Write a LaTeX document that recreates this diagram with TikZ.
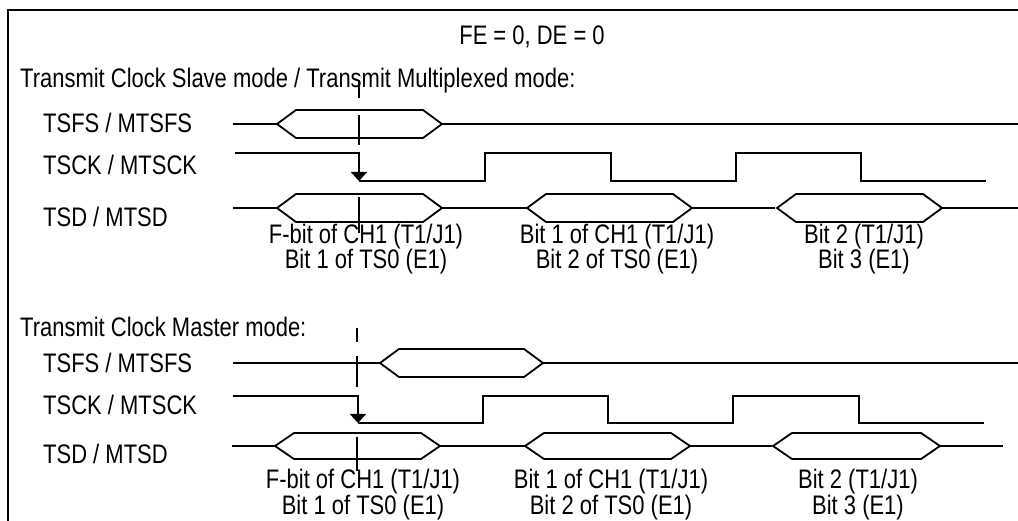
\documentclass[tikz,border=0pt]{standalone}
\usepackage{fontspec}
\setmainfont[FakeStretch=0.82]{Liberation Sans}
\usetikzlibrary{arrows.meta}

\begin{document}
\begin{tikzpicture}[
  x=1pt, y=-1pt,
  every node/.style={inner sep=0pt, font=\fontsize{26.8}{23}\selectfont},
  sig/.style={anchor=base west},
  caption/.style={anchor=base, align=center},
  wave/.style={line width=1.8pt},
  marker/.style={line width=1.8pt},
  fall/.style={line width=1.8pt, -{Triangle[width=16pt,length=9pt]}},
]
\useasboundingbox (0,0) rectangle (1018,521);

% Frame
\draw[wave] (8,521) -- (8,10) -- (1018,10);

% Texts
\node[anchor=base] (title)  at (532,45)  {FE = 0, DE = 0};
\node[sig]         (slave)  at (20,88)   {Transmit Clock Slave mode / Transmit Multiplexed mode:};
\node[sig]         (master) at (20,337)  {Transmit Clock Master mode:};

% Signal names
\node[sig] (sTSFS) at (43,133) {TSFS / MTSFS};
\node[sig] (sTSCK) at (43,175) {TSCK / MTSCK};
\node[sig] (sTSD)  at (43,227) {TSD / MTSD};
\node[sig] (mTSFS) at (43,373) {TSFS / MTSFS};
\node[sig] (mTSCK) at (43,414) {TSCK / MTSCK};
\node[sig] (mTSD)  at (43,463) {TSD / MTSD};

% Bit captions (anchored on the second line)
\node[caption] (sBit0) at (366,269) {F-bit of CH1 (T1/J1)\\Bit 1 of TS0 (E1)};
\node[caption] (sBit1) at (617,269) {Bit 1 of CH1 (T1/J1)\\Bit 2 of TS0 (E1)};
\node[caption] (sBit2) at (864,269) {Bit 2 (T1/J1)\\Bit 3 (E1)};
\node[caption] (mBit0) at (363,514) {F-bit of CH1 (T1/J1)\\Bit 1 of TS0 (E1)};
\node[caption] (mBit1) at (611,514) {Bit 1 of CH1 (T1/J1)\\Bit 2 of TS0 (E1)};
\node[caption] (mBit2) at (858,514) {Bit 2 (T1/J1)\\Bit 3 (E1)};

% Sampling markers
\foreach \a/\b in {80/98, 115/145, 197/233}
  \draw[marker] (359,\a) -- (359,\b);
\foreach \a/\b in {328/342, 356/387, 437/471}
  \draw[marker] (357,\a) -- (357,\b);

% Bus cells: left point / right point / middle / half height
\foreach \l/\r/\m/\h in {277/442/124/14, 277/442/208/14, 527/692/208/14, 777/942/208/14,
                         380/543/363/14, 275/440/446/13, 525/690/446/13, 773/940/446/13}
  \draw[wave] (\l,\m) -- (\l+19,\m-\h) -- (\r-19,\m-\h) -- (\r,\m)
              -- (\r-19,\m+\h) -- (\l+19,\m+\h) -- cycle;

% Idle lines between cells
\draw[wave] (233,124) -- (277,124)  (442,124) -- (1018,124);
\draw[wave] (233,208) -- (277,208)  (442,208) -- (527,208)  (692,208) -- (775,208)  (942,208) -- (1018,208);
\draw[wave] (233,363) -- (380,363)  (543,363) -- (1018,363);
\draw[wave] (232,446) -- (275,446)  (440,446) -- (525,446)  (690,446) -- (772,446)  (940,446) -- (1003,446);

% Clocks
\draw[fall] (235,153) -- (359,153) -- (359,181);
\draw[wave] (359,181) -- (485,181) -- (485,153) -- (611,153) -- (611,181) -- (736,181)
            -- (736,153) -- (861,153) -- (861,181) -- (986,181);
\draw[fall] (233,396) -- (358,396) -- (358,423);
\draw[wave] (358,423) -- (483,423) -- (483,396) -- (608,396) -- (608,423) -- (733,423)
            -- (733,396) -- (859,396) -- (859,423) -- (984,423);

\end{tikzpicture}
\end{document}
